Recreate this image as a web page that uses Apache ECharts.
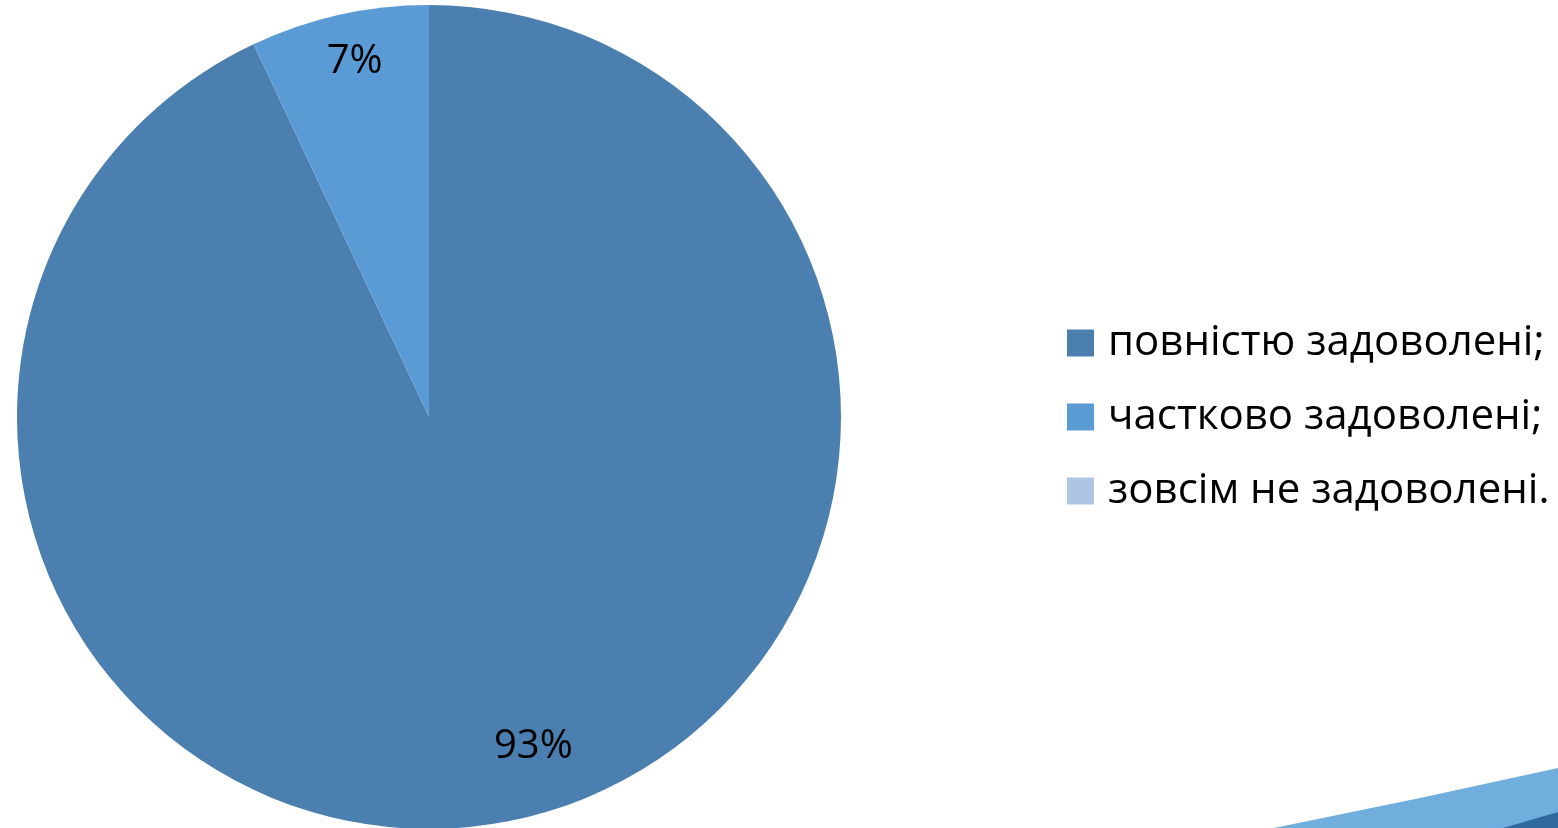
<!DOCTYPE html>
<html>
<head>
<meta charset="utf-8">
<title>pie</title>
<script src="https://cdn.jsdelivr.net/npm/echarts@6/dist/echarts.min.js"></script>
<style>
  html, body { margin: 0; padding: 0; background: #fff; }
  #chart { width: 1558px; height: 828px; }
</style>
</head>
<body>
<div id="chart"></div>
<script>
  // categories and values (percent)
  var categories = ['повністю задоволені;', 'частково задоволені;', 'зовсім не задоволені.']
  var values = [93, 7, 0]
  var colors = ['#4B7FAF', '#5B9BD5', '#ADC6E6']
  // small nudges so labels sit where the original put them
  var labelOffsets = [[26, -21], [4, -5], [0, 0]]

  var fontFamily = '"Open Sans", "Noto Sans", sans-serif'

  var chart = echarts.init(document.getElementById('chart'))

  var pieData = categories.map(function (name, i) {
    return { name: name, value: values[i], itemStyle: { color: colors[i] } }
  })

  var option = {
    animation: false,
    legend: {
      orient: 'vertical',
      left: 1062,
      top: 317,
      itemWidth: 27,
      itemHeight: 27,
      itemGap: 32,
      icon: 'rect',
      selectedMode: false,
      data: categories,
      textStyle: {
        fontFamily: fontFamily,
        fontSize: 42,
        color: '#000',
        padding: [0, 0, 0, 9]
      }
    },
    series: [
      {
        // real pie
        type: 'pie',
        center: [429, 417],
        radius: 412,
        startAngle: 90,
        clockwise: true,
        silent: true,
        label: { show: false },
        labelLine: { show: false },
        data: pieData
      },
      {
        // only for placing the % labels near the rim
        type: 'pie',
        center: [429, 417],
        radius: [300, 412],
        startAngle: 90,
        clockwise: true,
        silent: true,
        itemStyle: { color: 'rgba(0,0,0,0)' },
        label: {
          show: true,
          position: 'inside',
          fontFamily: fontFamily,
          fontSize: 40,
          color: '#000',
          formatter: function (p) {
            return p.value > 0 ? p.value + '%' : ''
          }
        },
        labelLine: { show: false },
        data: categories.map(function (name, i) {
          return { name: name, value: values[i], label: { offset: labelOffsets[i] } }
        })
      }
    ],
    graphic: [
      {
        // slide decoration in the corner
        type: 'polygon',
        silent: true,
        shape: { points: [[1274, 828], [1420, 798], [1558, 768], [1558, 828]] },
        style: { fill: '#6FAEDD' }
      },
      {
        type: 'polygon',
        silent: true,
        shape: { points: [[1503, 828], [1558, 812], [1558, 828]] },
        style: { fill: '#2F6A9E' }
      }
    ]
  }

  chart.setOption(option)
  window.onresize = chart.resize
</script>
</body>
</html>
